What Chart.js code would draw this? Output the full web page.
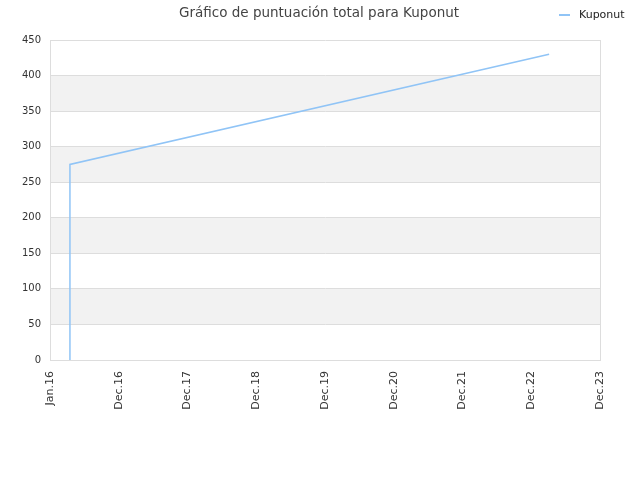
<!DOCTYPE html>
<html>
<head>
<meta charset="utf-8">
<script src="https://cdn.jsdelivr.net/npm/chart.js@4/dist/chart.umd.min.js"></script>
<style>
    body { margin: 0; background: #fff; }
    canvas { display: block; }
</style>
</head>
<body>
<canvas id="chart" width="640" height="480"></canvas>
<script>
const xLabels = ['Jan.16', 'Dec.16', 'Dec.17', 'Dec.18', 'Dec.19', 'Dec.20', 'Dec.21', 'Dec.22', 'Dec.23'];
const xPos = [0.29, 0.29, 0.29, 0.29, 0.29, 0.29, 0.29, 7.26];
const scores = [0, 7, 18, 39, 63, 91, 275, 430];
const yTicks = [0, 50, 100, 150, 200, 250, 300, 350, 400, 450];

const titleText = 'Gráfico de puntuación total para Kuponut';
const seriesName = 'Kuponut';
const lineColor = 'rgb(144, 196, 246)';

// gray bands between every other gridline + right border + title/legend
const decoPlugin = {
    id: 'deco',
    beforeDraw(chart) {
        const ctx = chart.ctx;
        const a = chart.chartArea;
        const y = chart.scales.y;
        ctx.save();
        ctx.fillStyle = '#f2f2f2';
        for (let v = 50; v < 450; v += 100) {
            const top = y.getPixelForValue(v + 50);
            const bot = y.getPixelForValue(v);
            ctx.fillRect(a.left, top, a.right - a.left, bot - top);
        }
        ctx.restore();
    },
    afterDraw(chart) {
        const ctx = chart.ctx;
        const a = chart.chartArea;
        ctx.save();
        ctx.strokeStyle = '#dddddd';
        ctx.lineWidth = 1;
        ctx.beginPath();
        ctx.moveTo(Math.round(a.right) + 0.5, a.top);
        ctx.lineTo(Math.round(a.right) + 0.5, a.bottom);
        ctx.stroke();

        ctx.fillStyle = '#444444';
        ctx.font = '13.5px "DejaVu Sans"';
        ctx.textAlign = 'center';
        ctx.textBaseline = 'middle';
        ctx.fillText(titleText, 319, 13);

        ctx.strokeStyle = lineColor;
        ctx.lineWidth = 2;
        ctx.beginPath();
        ctx.moveTo(559, 15);
        ctx.lineTo(570, 15);
        ctx.stroke();
        ctx.fillStyle = '#222222';
        ctx.font = '11px "DejaVu Sans"';
        ctx.textAlign = 'left';
        ctx.fillText(seriesName, 579, 15);
        ctx.restore();
    }
};

const data = {
    datasets: [{
        label: seriesName,
        data: xPos.map((x, i) => ({x: x, y: scores[i]})),
        borderColor: lineColor,
        backgroundColor: lineColor,
        borderWidth: 1.5,
        pointRadius: 0,
        tension: 0
    }]
};

const config = {
    type: 'line',
    data: data,
    options: {
        responsive: false,
        animation: false,
        layout: {
            padding: {top: 40, right: 40, left: 0, bottom: 0}
        },
        plugins: {
            legend: {display: false},
            title: {display: false},
            tooltip: {enabled: false}
        },
        scales: {
            x: {
                type: 'linear',
                min: 0,
                max: 8,
                afterBuildTicks(axis) {
                    axis.ticks = xLabels.map((l, i) => ({value: i}));
                },
                afterFit(axis) {
                    axis.height = 120;
                },
                grid: {display: false, drawTicks: false},
                border: {color: '#dddddd'},
                ticks: {
                    minRotation: 90,
                    maxRotation: 90,
                    padding: 11,
                    color: '#333333',
                    font: {family: 'DejaVu Sans', size: 11},
                    callback: (v) => xLabels[v]
                }
            },
            y: {
                min: 0,
                max: 450,
                afterBuildTicks(axis) {
                    axis.ticks = yTicks.map(v => ({value: v}));
                },
                afterFit(axis) {
                    axis.width = 50;
                },
                grid: {color: '#dddddd', drawTicks: false},
                border: {color: '#dddddd'},
                ticks: {
                    padding: 9,
                    color: '#333333',
                    font: {family: 'DejaVu Sans', size: 10}
                }
            }
        }
    },
    plugins: [decoPlugin]
};

let ctx = document.getElementById('chart').getContext('2d');
new Chart(ctx, config);
</script>
</body>
</html>
